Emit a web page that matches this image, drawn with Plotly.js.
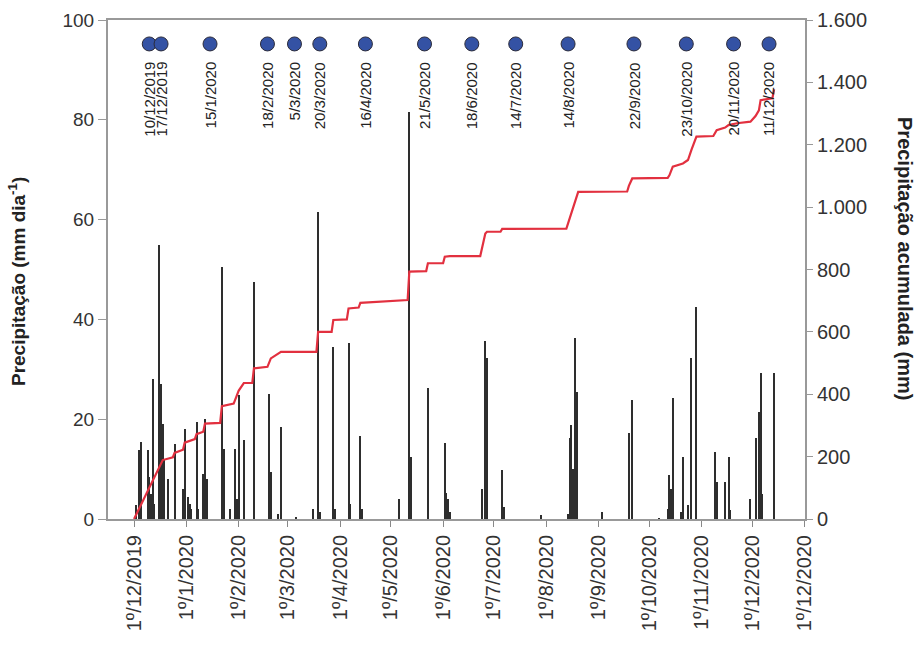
<!DOCTYPE html>
<html>
<head>
<meta charset="utf-8">
<script src="https://cdn.plot.ly/plotly-3.0.1.min.js"></script>
<style>html,body{margin:0;padding:0;background:#fff}#chart{width:918px;height:649px}</style>
</head>
<body>
<div id="chart"></div>
<script>
// Daily precipitation (mm dia-1)
const rainDates = [
 '2019-12-02','2019-12-04','2019-12-05','2019-12-09','2019-12-10','2019-12-11','2019-12-12','2019-12-13',
 '2019-12-16','2019-12-17','2019-12-18','2019-12-19','2019-12-21','2019-12-25','2019-12-30','2019-12-31',
 '2020-01-02','2020-01-03','2020-01-04','2020-01-07','2020-01-08','2020-01-11','2020-01-12','2020-01-13',
 '2020-01-22','2020-01-23','2020-01-27','2020-01-30','2020-01-31','2020-02-01','2020-02-04','2020-02-10',
 '2020-02-19','2020-02-20','2020-02-24','2020-02-26','2020-03-06','2020-03-16','2020-03-19','2020-03-20',
 '2020-03-28','2020-03-29','2020-04-06','2020-04-07','2020-04-13','2020-04-14','2020-05-06','2020-05-12',
 '2020-05-13','2020-05-23','2020-06-02','2020-06-03','2020-06-04','2020-06-05','2020-06-24','2020-06-26',
 '2020-06-27','2020-07-06','2020-07-07','2020-07-29','2020-08-14','2020-08-15','2020-08-16','2020-08-17',
 '2020-08-18','2020-08-19','2020-09-03','2020-09-19','2020-09-21','2020-10-07','2020-10-12','2020-10-13',
 '2020-10-14','2020-10-15','2020-10-20','2020-10-21','2020-10-24','2020-10-26','2020-10-29','2020-11-09',
 '2020-11-10','2020-11-15','2020-11-17','2020-11-18','2020-11-30','2020-12-03','2020-12-05','2020-12-06',
 '2020-12-07','2020-12-14'];
const rainValues = [
 2.8,13.8,15.4,13.8,8.5,5,28,3,
 55,27,19,12,8,15,6,18,
 4.5,3,2,19.5,2,9,20,8,
 50.5,14,2,14,4,24.8,15.8,47.4,
 25,9.5,1,18.5,0.5,2,61.6,1.5,
 34.5,2,35.3,3,16.6,2,4,81.5,
 12.5,26.2,15.3,5.3,4,1.5,6,35.7,
 32.2,9.8,2.5,0.8,1,16.2,18.8,10,
 36.2,25.5,1.5,17.2,23.8,0.3,2,8.8,
 6,24.2,1.5,12.5,2.8,32.2,42.5,13.5,
 7.5,7.5,12.5,1.8,4.1,16.2,21.5,29.2,
 5,29.3];

// Accumulated precipitation (mm)
const cumDates = [
 '2019-12-01','2019-12-18','2019-12-24','2019-12-25','2019-12-30','2019-12-31','2020-01-06','2020-01-07',
 '2020-01-11','2020-01-12','2020-01-21','2020-01-22','2020-01-29','2020-01-30','2020-02-01','2020-02-04',
 '2020-02-09','2020-02-10','2020-02-18','2020-02-20','2020-02-26','2020-03-18','2020-03-19','2020-03-27',
 '2020-03-28','2020-04-05','2020-04-06','2020-04-12','2020-04-13','2020-05-11','2020-05-12','2020-05-22',
 '2020-05-23','2020-06-01','2020-06-02','2020-06-05','2020-06-23','2020-06-26','2020-06-27','2020-07-05',
 '2020-07-06','2020-08-13','2020-08-20','2020-09-18','2020-09-19','2020-09-21','2020-10-12','2020-10-13',
 '2020-10-15','2020-10-21','2020-10-24','2020-10-26','2020-10-29','2020-11-08','2020-11-10','2020-11-15',
 '2020-11-17','2020-11-22','2020-11-30','2020-12-03','2020-12-05','2020-12-06','2020-12-13','2020-12-14'];
const cumValues = [
 0,189,198,212,222,245,256,272,
 280,306,308,362,370,386,412,436,
 436,483,488,515,536,536,600,600,
 638,640,675,678,693,702,793,795,
 820,820,841,843,843,915,921,921,
 930,931,1049,1050,1068,1092,1094,1102,
 1130,1140,1151,1183,1226,1228,1247,1255,
 1263,1269,1274,1292,1310,1343,1349,1378];

// Sampling dates (markers + labels)
const sampleDates = ['2019-12-10','2019-12-17','2020-01-15','2020-02-18','2020-03-05','2020-03-20','2020-04-16',
 '2020-05-21','2020-06-18','2020-07-14','2020-08-14','2020-09-22','2020-10-23','2020-11-20','2020-12-11'];
const sampleLabels = ['10/12/2019','17/12/2019','15/1/2020','18/2/2020','5/3/2020','20/3/2020','16/4/2020',
 '21/5/2020','18/6/2020','14/7/2020','14/8/2020','22/9/2020','23/10/2020','20/11/2020','11/12/2020'];
const sampleLevel = sampleDates.map(() => 95.2);

// X tick positions and labels
const xTickVals = ['2019-12-01','2020-01-01','2020-02-01','2020-03-01','2020-04-01','2020-05-01','2020-06-01',
 '2020-07-01','2020-08-01','2020-09-01','2020-10-01','2020-11-01','2020-12-01','2021-01-01'];
const xTickText = ['1º/12/2019','1º/1/2020','1º/2/2020','1º/3/2020','1º/4/2020','1º/5/2020','1º/6/2020',
 '1º/7/2020','1º/8/2020','1º/9/2020','1º/10/2020','1º/11/2020','1º/12/2020','1º/12/2020'];

const FONT = 'Arial, "Liberation Sans", sans-serif';
const DAY = 86400000;

const traces = [
  {type:'bar', x: rainDates, y: rainValues, width: rainDates.map(()=>DAY*1.2),
   marker:{color:'#2e2e2e', line:{width:0}}, yaxis:'y', hoverinfo:'x+y'},
  {type:'scatter', mode:'lines', x: cumDates, y: cumValues, yaxis:'y2',
   line:{color:'#e2303f', width:2.2}},
  {type:'scatter', mode:'markers', x: sampleDates, y: sampleLevel, yaxis:'y',
   marker:{size:14, color:'#3452a4', line:{color:'#2b2b3a', width:1}}}
];

const annotations = sampleDates.map((d,i) => ({
  x: d, y: 92, xref:'x', yref:'y', text: sampleLabels[i], showarrow:false,
  textangle:-90, xanchor:'center', yanchor:'top',
  font:{family:FONT, size:15, color:'#222'}
}));
annotations.push({
  xref:'paper', yref:'paper', x:-0.1305, y:0.475, showarrow:false, textangle:-90,
  text:'<b>Precipitação (mm dia<sup>-1</sup>)</b>', font:{family:FONT, size:19, color:'#222'},
  xanchor:'center', yanchor:'middle'
});
annotations.push({
  xref:'paper', yref:'paper', x:1.1435, y:0.523, showarrow:false, textangle:90,
  text:'<b>Precipitação acumulada (mm)</b>', font:{family:FONT, size:20, color:'#222'},
  xanchor:'center', yanchor:'middle'
});

const layout = {
  width:918, height:649,
  margin:{l:108, r:113, t:20, b:130},
  paper_bgcolor:'#fff', plot_bgcolor:'#fff',
  showlegend:false,
  separators: ',.',
  bargap:0,
  xaxis:{
    type:'date', range:['2019-11-15 14:00','2021-01-01 07:00'],
    tickvals:xTickVals, ticktext:xTickText, tickangle:-90,
    ticks:'outside', ticklen:6, tickcolor:'#888', tickwidth:1,
    showline:true, linecolor:'#999', linewidth:2, mirror:true,
    showgrid:false, zeroline:false,
    tickfont:{family:FONT, size:20, color:'#333'}
  },
  yaxis:{
    range:[0,100], tickvals:[0,20,40,60,80,100],
    ticks:'outside', ticklen:8, tickcolor:'#999', tickwidth:1,
    showline:true, linecolor:'#999', linewidth:2,
    showgrid:false, zeroline:false,
    tickfont:{family:FONT, size:19, color:'#333'}
  },
  yaxis2:{
    overlaying:'y', side:'right', range:[0,1600], tickvals:[0,200,400,600,800,1000,1200,1400,1600],
    separatethousands:true, tickformat:',d',
    ticks:'outside', ticklen:6, tickcolor:'#999', tickwidth:1,
    showline:true, linecolor:'#999', linewidth:2,
    showgrid:false, zeroline:false,
    tickfont:{family:FONT, size:20, color:'#333'}
  },
  annotations: annotations
};

Plotly.newPlot('chart', traces, layout, {displayModeBar:false, staticPlot:true});
</script>
</body>
</html>
